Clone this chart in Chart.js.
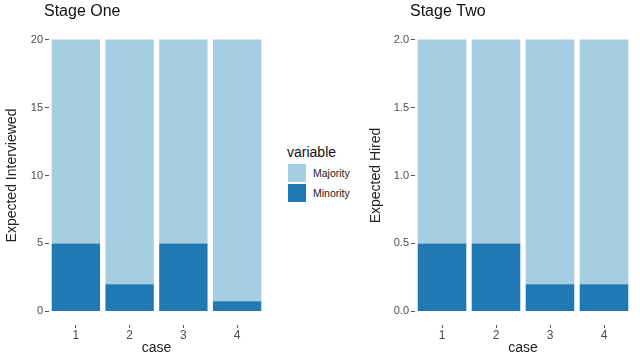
<!DOCTYPE html>
<html>
<head>
<meta charset="utf-8">
<script src="https://cdn.jsdelivr.net/npm/chart.js@4"></script>
<style>
    body { margin: 0; width: 640px; height: 360px; background: #fff; position: relative; overflow: hidden; font-family: "Liberation Sans", Arial, sans-serif; }
    #oneBox { position: absolute; left: 0; top: 0; width: 272px; height: 360px; }
    #twoBox { position: absolute; left: 360px; top: 0; width: 280px; height: 360px; }
    #legend { position: absolute; left: 287px; top: 144px; color: #111; }
    #legend .title { font-size: 14px; margin-bottom: 3px; }
    #legend .item { display: flex; align-items: center; height: 20px; font-size: 10.5px; color: #222; }
    #legend .swatch { width: 18px; height: 18px; margin-right: 6px; border: 1px solid #fff; }
</style>
</head>
<body>
<div id="oneBox"><canvas id="stageOneChart"></canvas></div>
<div id="twoBox"><canvas id="stageTwoChart"></canvas></div>
<div id="legend"></div>

<script>
const cases = ['1', '2', '3', '4'];
const seriesNames = ['Majority', 'Minority'];

// stage one: expected interviewed
const oneMinority = [5, 2, 5, 0.75];
const oneMajority = [15, 18, 15, 19.25];
const oneTicks = [0, 5, 10, 15, 20];

// stage two: expected hired
const twoMinority = [0.5, 0.5, 0.2, 0.2];
const twoMajority = [1.5, 1.5, 1.8, 1.8];
const twoTicks = [0, 0.5, 1, 1.5, 2];

const majorityColor = '#a6cee3';
const minorityColor = '#2179b3';

Chart.defaults.font.family = '"Liberation Sans", Arial, sans-serif';
Chart.defaults.animation = false;

// panel title drawn a little left of the plot area, like ggplot
const panelTitle = {
    id: 'panelTitle',
    afterDraw(chart, args, opts) {
        let ctx = chart.ctx;
        ctx.save();
        ctx.font = '16px "Liberation Sans", Arial, sans-serif';
        ctx.fillStyle = '#111';
        ctx.textBaseline = 'middle';
        ctx.fillText(opts.text, chart.chartArea.left - 5, 12);
        ctx.restore();
    }
};

function makeChart(canvasId, title, yTitle, minority, majority, ticks, yMin, yMax, yWidth, padRight, titlePad, fmt) {
    let ctx = document.getElementById(canvasId).getContext('2d');
    return new Chart(ctx, {
        type: 'bar',
        data: {
            labels: cases,
            datasets: [{
                label: seriesNames[1],
                data: minority,
                backgroundColor: minorityColor,
                barPercentage: 0.9,
                categoryPercentage: 1
            }, {
                label: seriesNames[0],
                data: majority,
                backgroundColor: majorityColor,
                barPercentage: 0.9,
                categoryPercentage: 1
            }]
        },
        plugins: [panelTitle],
        options: {
            responsive: true,
            maintainAspectRatio: false,
            layout: { padding: { left: 0, right: padRight, top: 26, bottom: 0 } },
            plugins: {
                legend: { display: false },
                tooltip: { enabled: false },
                title: { display: false },
                panelTitle: { text: title }
            },
            scales: {
                x: {
                    stacked: true,
                    grid: { offset: false, drawOnChartArea: false, drawTicks: true, tickLength: 3, color: '#555' },
                    border: { display: false },
                    ticks: { color: '#4d4d4d', font: { size: 12 }, padding: 0 },
                    title: { display: true, text: 'case', color: '#222', font: { size: 14 }, padding: { top: 0, bottom: 3 } },
                    afterFit: scale => { scale.height = 35; }
                },
                y: {
                    stacked: true,
                    min: yMin,
                    max: yMax,
                    grid: { drawOnChartArea: false, drawTicks: true, tickLength: 4, color: '#555' },
                    border: { display: false },
                    afterBuildTicks: scale => { scale.ticks = ticks.map(v => ({ value: v })); },
                    ticks: { color: '#4d4d4d', font: { size: 11 }, padding: 2, callback: v => fmt(v) },
                    title: { display: true, text: yTitle, color: '#222', font: { size: 14 }, padding: { top: titlePad, bottom: 0 } },
                    afterFit: scale => { scale.width = yWidth; }
                }
            }
        }
    });
}

makeChart('stageOneChart', 'Stage One', 'Expected Interviewed', oneMinority, oneMajority, oneTicks, -1, 21, 49, 8, 4, v => String(v));
makeChart('stageTwoChart', 'Stage Two', 'Expected Hired', twoMinority, twoMajority, twoTicks, -0.1, 2.1, 55, 9, 8, v => v.toFixed(1));

let legend = document.getElementById('legend');
legend.innerHTML = '<div class="title">variable</div>' +
    [[seriesNames[0], majorityColor], [seriesNames[1], minorityColor]].map(([name, color]) =>
        '<div class="item"><span class="swatch" style="background:' + color + '"></span>' + name + '</div>'
    ).join('');
</script>
</body>
</html>
